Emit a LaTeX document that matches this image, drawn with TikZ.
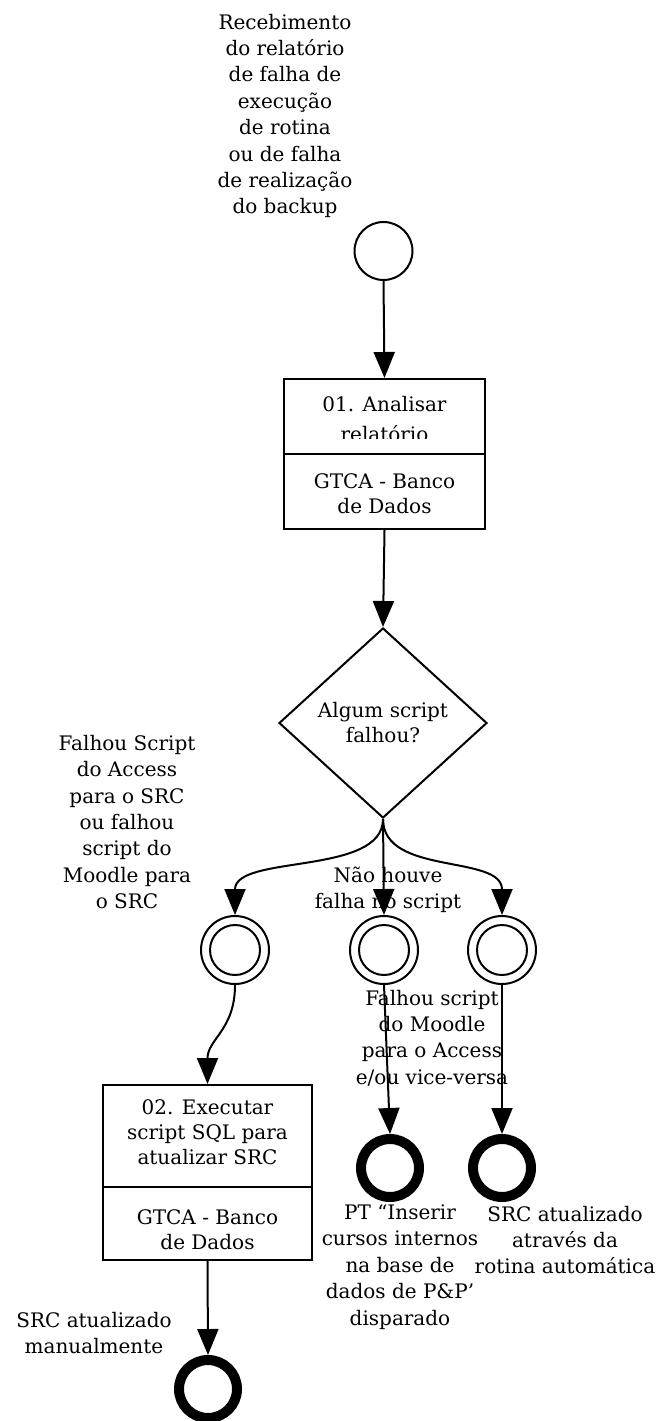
\documentclass[tikz,border=0pt]{standalone}
\usepackage{fontspec}
\setmainfont{DejaVu Serif}
\usetikzlibrary{arrows.meta,shapes.geometric}
\begin{document}
\begin{tikzpicture}[x=1pt,y=-1pt,
  conn/.style={line width=2pt, -{Triangle[length=26pt,width=21pt]}},
  lbl/.style={align=center, inner sep=0pt, font=\fontsize{20}{26.4}\selectfont},
  boxtxt/.style={align=center, inner sep=0pt, font=\fontsize{20}{25}\selectfont},
  taskbox/.style={draw, line width=2pt, inner sep=0pt},
  startev/.style={circle, draw, line width=2pt, minimum size=58pt, inner sep=0pt},
  interev/.style={circle, draw, line width=2pt, minimum size=68pt, inner sep=0pt},
  endev/.style={circle, draw, line width=10pt, minimum size=58pt, inner sep=0pt},
  gate/.style={diamond, draw, line width=2pt, minimum width=208pt, minimum height=190pt, inner sep=0pt, align=center, font=\fontsize{20}{25}\selectfont}
]
\useasboundingbox (0,0) rectangle (659,1421);

% start event
\node[startev] (start) at (383.5,251) {};
\node[lbl] (tl) at (285,116) {Recebimento\\do relatório\\de falha de\\execução\\de rotina\\ou de falha\\de realização\\do backup};

% task 1
\node[taskbox, minimum width=201pt, minimum height=150pt] (b1) at (384.5,454) {};
\draw[line width=2pt] (b1.west |- 0,454) -- (b1.east |- 0,454);
\begin{scope}
  \clip (286,381) rectangle (483,438);
  \node[boxtxt, anchor=base] (b1t) at (384.5,411) {01. Analisar};
  \node[boxtxt, anchor=base] (b1u) at (384.5,441) {relatório};
\end{scope}
\node[boxtxt] (b1r) at (384.5,493.5) {GTCA - Banco\\de Dados};

% gateway
\node[gate] (dec) at (383,723) {Algum script\\falhou?};

% intermediate events
\node[interev] (i1) at (235,950) {};
\node[interev] (i2) at (384,950) {};
\node[interev] (i3) at (502,950) {};
\draw[line width=2pt] (i1.center) circle[radius=25pt];
\draw[line width=2pt] (i2.center) circle[radius=25pt];
\draw[line width=2pt] (i3.center) circle[radius=25pt];

% task 2
\node[taskbox, minimum width=209pt, minimum height=175pt] (b2) at (207.5,1172.5) {};
\draw[line width=2pt] (b2.west |- 0,1187) -- (b2.east |- 0,1187);
\node[boxtxt] (b2t) at (207.5,1132.5) {02. Executar\\script SQL para\\atualizar SRC};
\node[boxtxt] (b2r) at (207.5,1230) {GTCA - Banco\\de Dados};

% end events
\node[endev] (e1) at (208,1389) {};
\node[endev] (e2) at (390,1168) {};
\node[endev] (e3) at (502,1168) {};

% connectors
\draw[conn] (start.south) -- (b1.north);
\draw[conn] (b1.south) -- (dec.north);
\draw[conn] (dec.south) .. controls +(0,57) and +(0,-61) .. (i1.north);
\draw[conn] (dec.south) -- (i2.north);
\draw[conn] (dec.south) .. controls +(0,57) and +(0,-61) .. (i3.north);
\draw[conn] (i1.south) .. controls +(0,45) and +(0,-45) .. (b2.north);
\draw[conn] (i2.south) -- (e2.north);
\draw[conn] (i3.south) -- (e3.north);
\draw[conn] (b2.south) -- (e1.north);

% labels
\node[lbl] (ll) at (127,822) {Falhou Script\\do Access\\para o SRC\\ou falhou\\script do\\Moodle para\\o SRC};
\node[lbl] (ml) at (388,890) {Não houve\\falha no script};
\node[lbl] (fl) at (432,1038) {Falhou script\\do Moodle\\para o Access\\e/ou vice-versa};
\node[lbl] (pl) at (400,1267) {PT “Inserir\\cursos internos\\na base de\\dados de P\&P'\\disparado};
\node[lbl] (sl) at (565,1240) {SRC atualizado\\através da\\rotina automática};
\node[lbl] (bl) at (94,1333) {SRC atualizado\\manualmente};
\end{tikzpicture}
\end{document}
